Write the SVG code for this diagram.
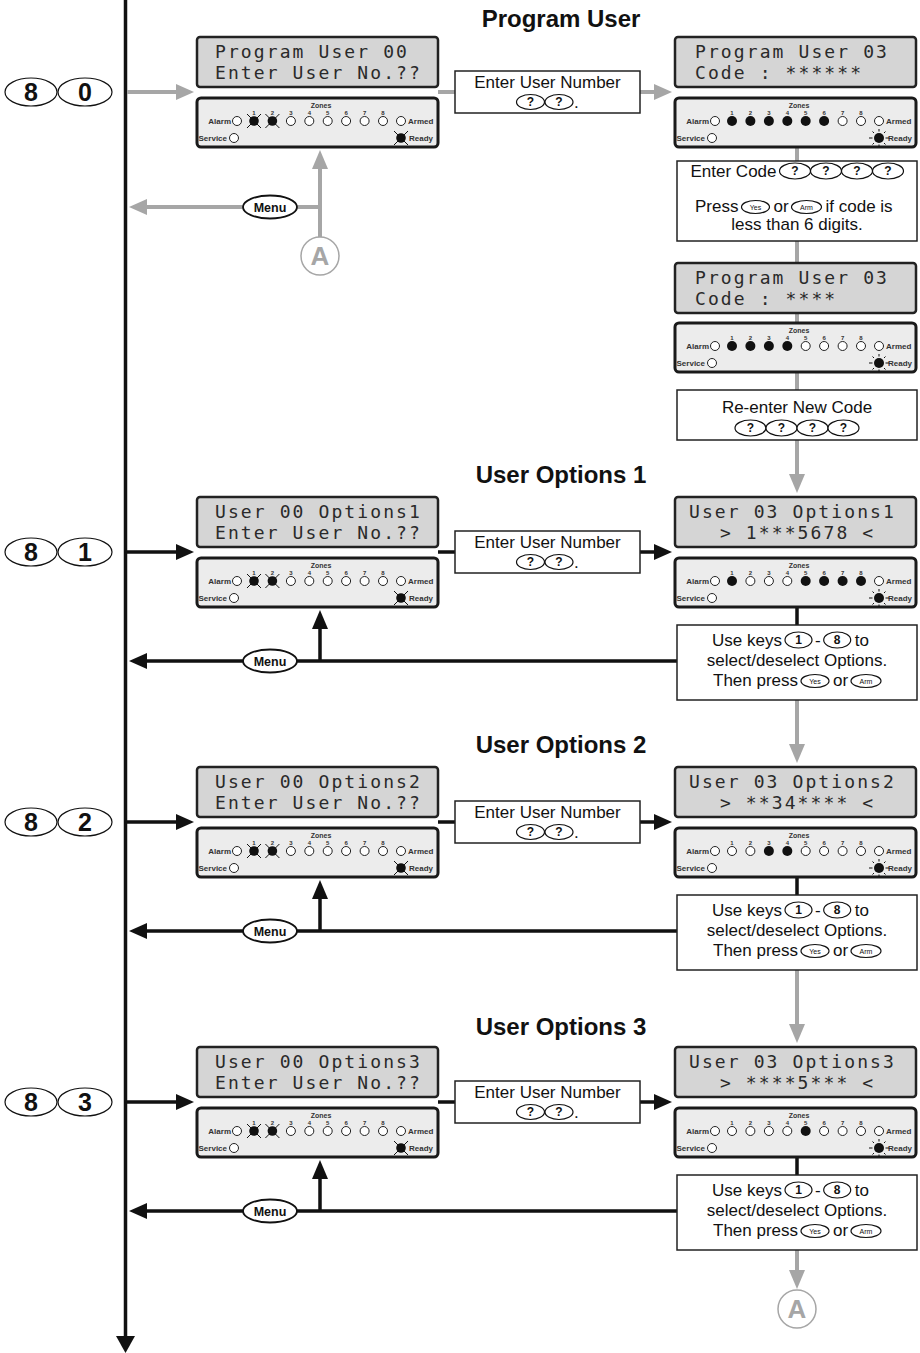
<svg xmlns="http://www.w3.org/2000/svg" width="920" height="1353" viewBox="0 0 920 1353">
<style>
.lcd{fill:#d5d5d5;stroke:#222;stroke-width:2.5}
.lt{font-family:"DejaVu Sans Mono","Liberation Mono",monospace;font-size:18px;letter-spacing:2.1px;fill:#2a2a2a}
.pnl{fill:#ececec;stroke:#1a1a1a;stroke-width:3}
.lbl{font-family:"Liberation Sans",Arial,sans-serif;font-weight:bold;font-size:8px;fill:#333}
.zn{font-family:"Liberation Sans",Arial,sans-serif;font-weight:bold;font-size:7px;fill:#333;text-anchor:middle}
.num{font-family:"Liberation Sans",Arial,sans-serif;font-weight:bold;font-size:6px;fill:#333;text-anchor:middle}
.off{fill:#fff;stroke:#222;stroke-width:1}
.box{fill:#fff;stroke:#222;stroke-width:1.5}
.bt{font-family:"Liberation Sans",Arial,sans-serif;font-size:17px;fill:#111}
.c{text-anchor:middle}
.key{fill:#fff;stroke:#111;stroke-width:1.2}
.q{font-family:"Liberation Sans",Arial,sans-serif;font-weight:bold;font-size:12px;fill:#111;text-anchor:middle}
.sm{font-family:"Liberation Sans",Arial,sans-serif;font-size:7px;fill:#111;text-anchor:middle}
.big{font-family:"Liberation Sans",Arial,sans-serif;font-weight:bold;font-size:25px;fill:#111;text-anchor:middle}
.ttl{font-family:"Liberation Sans",Arial,sans-serif;font-weight:bold;font-size:24px;fill:#111;text-anchor:middle}
.menu{font-family:"Liberation Sans",Arial,sans-serif;font-weight:bold;font-size:12.5px;fill:#111;text-anchor:middle}
.gl{stroke:#a6a6a6;stroke-width:4;fill:none}
.kl{stroke:#111;stroke-width:3.5;fill:none}
.gh{fill:#a6a6a6}
.kh{fill:#111}
.ac{fill:#fff;stroke:#a6a6a6;stroke-width:1.5}
.at{font-family:"Liberation Sans",Arial,sans-serif;font-weight:bold;font-size:26px;fill:#a6a6a6;text-anchor:middle}
</style>
<defs>
<g id="fl"><circle r="4.8" fill="#111"/><path d="M-7,-7L7,7M-7,7L7,-7" stroke="#111" stroke-width="1"/></g>
<g id="sun"><circle r="5" fill="#111"/><path d="M-10,0H-6.5M6.5,0H10M0,-9V-6.5M0,6.5V9M-6.5,-6.5L-5,-5M6.5,-6.5L5,-5M-6.5,6.5L-5,5M6.5,6.5L5,5" stroke="#111" stroke-width="1"/></g>
</defs>

<g id="titles">
<text class="ttl" x="561" y="27">Program User</text>
<text class="ttl" x="561" y="483">User Options 1</text>
<text class="ttl" x="561" y="753">User Options 2</text>
<text class="ttl" x="561" y="1035">User Options 3</text>
</g>

<g id="connectors">
<path class="kl" d="M125.5,0V1338"/>
<polygon class="kh" points="116,1336 135,1336 125.5,1353"/>
<path class="gl" d="M127,92H178M438,92H455M640,92H656"/>
<polygon class="gh" points="176,84 194,92 176,100"/>
<polygon class="gh" points="654,84 672,92 654,100"/>
<path class="gl" d="M797,148V161M797,241V263M797,313V323M797,372V390M797,440V476"/>
<polygon class="gh" points="789,474 797,493 805,474"/>
<path class="gl" d="M320,237V167M320,207H297M243,207H146"/>
<polygon class="gh" points="312,169 320,150 328,169"/>
<polygon class="gh" points="147,199 129,207 147,215"/>
<path class="kl" d="M127,552H178M438,552H455M640,552H656M797,607V625M677,661H297M243,661H146M320,661V627"/>
<polygon class="kh" points="176,544 194,552 176,560"/>
<polygon class="kh" points="654,544 672,552 654,560"/>
<polygon class="kh" points="147,653 129,661 147,669"/>
<polygon class="kh" points="312,629 320,610 328,629"/>
<path class="gl" d="M797,700V746"/>
<polygon class="gh" points="789,744 797,763 805,744"/>
<path class="kl" d="M127,822H178M438,822H455M640,822H656M797,877V895M677,931H297M243,931H146M320,931V897"/>
<polygon class="kh" points="176,814 194,822 176,830"/>
<polygon class="kh" points="654,814 672,822 654,830"/>
<polygon class="kh" points="147,923 129,931 147,939"/>
<polygon class="kh" points="312,899 320,880 328,899"/>
<path class="gl" d="M797,970V1026"/>
<polygon class="gh" points="789,1024 797,1043 805,1024"/>
<path class="kl" d="M127,1102H178M438,1102H455M640,1102H656M797,1157V1175M677,1211H297M243,1211H146M320,1211V1177"/>
<polygon class="kh" points="176,1094 194,1102 176,1110"/>
<polygon class="kh" points="654,1094 672,1102 654,1110"/>
<polygon class="kh" points="147,1203 129,1211 147,1219"/>
<polygon class="kh" points="312,1179 320,1160 328,1179"/>
<path class="gl" d="M797,1250V1272"/>
<polygon class="gh" points="789,1270 797,1289 805,1270"/>
</g>

<g id="key-80"><ellipse class="key" cx="31" cy="92" rx="26" ry="14"/><text class="big" x="31" y="101">8</text><ellipse class="key" cx="85" cy="92" rx="27" ry="14"/><text class="big" x="85" y="101">0</text></g>
<g id="key-81"><ellipse class="key" cx="31" cy="552" rx="26" ry="14"/><text class="big" x="31" y="561">8</text><ellipse class="key" cx="85" cy="552" rx="27" ry="14"/><text class="big" x="85" y="561">1</text></g>
<g id="key-82"><ellipse class="key" cx="31" cy="822" rx="26" ry="14"/><text class="big" x="31" y="831">8</text><ellipse class="key" cx="85" cy="822" rx="27" ry="14"/><text class="big" x="85" y="831">2</text></g>
<g id="key-83"><ellipse class="key" cx="31" cy="1102" rx="26" ry="14"/><text class="big" x="31" y="1111">8</text><ellipse class="key" cx="85" cy="1102" rx="27" ry="14"/><text class="big" x="85" y="1111">3</text></g>

<g id="menu-1"><ellipse class="key" cx="270" cy="207" rx="27" ry="11.5" style="stroke-width:1.8"/><text class="menu" x="270" y="211.5">Menu</text></g>
<g id="menu-2"><ellipse class="key" cx="270" cy="661" rx="27" ry="11.5" style="stroke-width:1.8"/><text class="menu" x="270" y="665.5">Menu</text></g>
<g id="menu-3"><ellipse class="key" cx="270" cy="931" rx="27" ry="11.5" style="stroke-width:1.8"/><text class="menu" x="270" y="935.5">Menu</text></g>
<g id="menu-4"><ellipse class="key" cx="270" cy="1211" rx="27" ry="11.5" style="stroke-width:1.8"/><text class="menu" x="270" y="1215.5">Menu</text></g>
<g id="connector-A-top"><circle class="ac" cx="320" cy="256" r="19"/><text class="at" x="320" y="265.3">A</text></g>
<g id="connector-A-bottom"><circle class="ac" cx="797" cy="1309" r="19"/><text class="at" x="797" y="1318.3">A</text></g>

<g id="lcd-1L"><rect class="lcd" x="197" y="37" width="241" height="50" rx="3"/><text class="lt" x="215" y="58">Program User 00</text><text class="lt" x="215" y="79">Enter User No.??</text></g>
<g id="lcd-1R"><rect class="lcd" x="675" y="37" width="241" height="50" rx="3"/><text class="lt" x="695" y="58">Program User 03</text><text class="lt" x="695" y="79">Code : ******</text></g>
<g id="lcd-1bR"><rect class="lcd" x="675" y="263" width="241" height="50" rx="3"/><text class="lt" x="695" y="284">Program User 03</text><text class="lt" x="695" y="305">Code : ****</text></g>
<g id="lcd-2L"><rect class="lcd" x="197" y="497" width="241" height="50" rx="3"/><text class="lt" x="215" y="518">User 00 Options1</text><text class="lt" x="215" y="539">Enter User No.??</text></g>
<g id="lcd-2R"><rect class="lcd" x="675" y="497" width="241" height="50" rx="3"/><text class="lt" x="689" y="518">User 03 Options1</text><text class="lt" x="720" y="539">&gt; 1***5678 &lt;</text></g>
<g id="lcd-3L"><rect class="lcd" x="197" y="767" width="241" height="50" rx="3"/><text class="lt" x="215" y="788">User 00 Options2</text><text class="lt" x="215" y="809">Enter User No.??</text></g>
<g id="lcd-3R"><rect class="lcd" x="675" y="767" width="241" height="50" rx="3"/><text class="lt" x="689" y="788">User 03 Options2</text><text class="lt" x="720" y="809">&gt; **34**** &lt;</text></g>
<g id="lcd-4L"><rect class="lcd" x="197" y="1047" width="241" height="50" rx="3"/><text class="lt" x="215" y="1068">User 00 Options3</text><text class="lt" x="215" y="1089">Enter User No.??</text></g>
<g id="lcd-4R"><rect class="lcd" x="675" y="1047" width="241" height="50" rx="3"/><text class="lt" x="689" y="1068">User 03 Options3</text><text class="lt" x="720" y="1089">&gt; ****5*** &lt;</text></g>

<g id="leds-1L">
<rect class="pnl" x="197" y="98" width="241" height="49" rx="4"/>
<text class="zn" x="321" y="108">Zones</text>
<text class="num" x="254 272.4 290.9 309.3 327.7 346.1 364.6 383" y="115">12345678</text>
<text class="lbl" x="231" y="124" text-anchor="end">Alarm</text>
<text class="lbl" x="408" y="124">Armed</text>
<text class="lbl" x="227" y="141" text-anchor="end">Service</text>
<text class="lbl" x="409" y="141">Ready</text>
<circle class="off" cx="237" cy="121" r="4.5"/>
<use href="#fl" x="254" y="121"/><use href="#fl" x="272.4" y="121"/>
<circle class="off" cx="290.9" cy="121" r="4.5"/><circle class="off" cx="309.3" cy="121" r="4.5"/><circle class="off" cx="327.7" cy="121" r="4.5"/><circle class="off" cx="346.1" cy="121" r="4.5"/><circle class="off" cx="364.6" cy="121" r="4.5"/><circle class="off" cx="383" cy="121" r="4.5"/>
<circle class="off" cx="401" cy="121" r="4.5"/>
<circle class="off" cx="234" cy="138" r="4.5"/>
<use href="#fl" x="401" y="138"/>
</g>
<g id="leds-1R">
<rect class="pnl" x="675" y="98" width="241" height="49" rx="4"/>
<text class="zn" x="799" y="108">Zones</text>
<text class="num" x="732 750.4 768.9 787.3 805.7 824.1 842.6 861" y="115">12345678</text>
<text class="lbl" x="709" y="124" text-anchor="end">Alarm</text>
<text class="lbl" x="886" y="124">Armed</text>
<text class="lbl" x="705" y="141" text-anchor="end">Service</text>
<text class="lbl" x="888" y="141">Ready</text>
<circle class="off" cx="715" cy="121" r="4.5"/>
<circle fill="#111" cx="732" cy="121" r="5"/><circle fill="#111" cx="750.4" cy="121" r="5"/><circle fill="#111" cx="768.9" cy="121" r="5"/><circle fill="#111" cx="787.3" cy="121" r="5"/><circle fill="#111" cx="805.7" cy="121" r="5"/><circle fill="#111" cx="824.1" cy="121" r="5"/>
<circle class="off" cx="842.6" cy="121" r="4.5"/><circle class="off" cx="861" cy="121" r="4.5"/>
<circle class="off" cx="879" cy="121" r="4.5"/>
<circle class="off" cx="712" cy="138" r="4.5"/>
<use href="#sun" x="879" y="138"/>
</g>
<g id="leds-1bR">
<rect class="pnl" x="675" y="323" width="241" height="49" rx="4"/>
<text class="zn" x="799" y="333">Zones</text>
<text class="num" x="732 750.4 768.9 787.3 805.7 824.1 842.6 861" y="340">12345678</text>
<text class="lbl" x="709" y="349" text-anchor="end">Alarm</text>
<text class="lbl" x="886" y="349">Armed</text>
<text class="lbl" x="705" y="366" text-anchor="end">Service</text>
<text class="lbl" x="888" y="366">Ready</text>
<circle class="off" cx="715" cy="346" r="4.5"/>
<circle fill="#111" cx="732" cy="346" r="5"/><circle fill="#111" cx="750.4" cy="346" r="5"/><circle fill="#111" cx="768.9" cy="346" r="5"/><circle fill="#111" cx="787.3" cy="346" r="5"/>
<circle class="off" cx="805.7" cy="346" r="4.5"/><circle class="off" cx="824.1" cy="346" r="4.5"/><circle class="off" cx="842.6" cy="346" r="4.5"/><circle class="off" cx="861" cy="346" r="4.5"/>
<circle class="off" cx="879" cy="346" r="4.5"/>
<circle class="off" cx="712" cy="363" r="4.5"/>
<use href="#sun" x="879" y="363"/>
</g>
<g id="leds-2L">
<rect class="pnl" x="197" y="558" width="241" height="49" rx="4"/>
<text class="zn" x="321" y="568">Zones</text>
<text class="num" x="254 272.4 290.9 309.3 327.7 346.1 364.6 383" y="575">12345678</text>
<text class="lbl" x="231" y="584" text-anchor="end">Alarm</text>
<text class="lbl" x="408" y="584">Armed</text>
<text class="lbl" x="227" y="601" text-anchor="end">Service</text>
<text class="lbl" x="409" y="601">Ready</text>
<circle class="off" cx="237" cy="581" r="4.5"/>
<use href="#fl" x="254" y="581"/><use href="#fl" x="272.4" y="581"/>
<circle class="off" cx="290.9" cy="581" r="4.5"/><circle class="off" cx="309.3" cy="581" r="4.5"/><circle class="off" cx="327.7" cy="581" r="4.5"/><circle class="off" cx="346.1" cy="581" r="4.5"/><circle class="off" cx="364.6" cy="581" r="4.5"/><circle class="off" cx="383" cy="581" r="4.5"/>
<circle class="off" cx="401" cy="581" r="4.5"/>
<circle class="off" cx="234" cy="598" r="4.5"/>
<use href="#fl" x="401" y="598"/>
</g>
<g id="leds-2R">
<rect class="pnl" x="675" y="558" width="241" height="49" rx="4"/>
<text class="zn" x="799" y="568">Zones</text>
<text class="num" x="732 750.4 768.9 787.3 805.7 824.1 842.6 861" y="575">12345678</text>
<text class="lbl" x="709" y="584" text-anchor="end">Alarm</text>
<text class="lbl" x="886" y="584">Armed</text>
<text class="lbl" x="705" y="601" text-anchor="end">Service</text>
<text class="lbl" x="888" y="601">Ready</text>
<circle class="off" cx="715" cy="581" r="4.5"/>
<circle fill="#111" cx="732" cy="581" r="5"/>
<circle class="off" cx="750.4" cy="581" r="4.5"/><circle class="off" cx="768.9" cy="581" r="4.5"/><circle class="off" cx="787.3" cy="581" r="4.5"/>
<circle fill="#111" cx="805.7" cy="581" r="5"/><circle fill="#111" cx="824.1" cy="581" r="5"/><circle fill="#111" cx="842.6" cy="581" r="5"/><circle fill="#111" cx="861" cy="581" r="5"/>
<circle class="off" cx="879" cy="581" r="4.5"/>
<circle class="off" cx="712" cy="598" r="4.5"/>
<use href="#sun" x="879" y="598"/>
</g>
<g id="leds-3L">
<rect class="pnl" x="197" y="828" width="241" height="49" rx="4"/>
<text class="zn" x="321" y="838">Zones</text>
<text class="num" x="254 272.4 290.9 309.3 327.7 346.1 364.6 383" y="845">12345678</text>
<text class="lbl" x="231" y="854" text-anchor="end">Alarm</text>
<text class="lbl" x="408" y="854">Armed</text>
<text class="lbl" x="227" y="871" text-anchor="end">Service</text>
<text class="lbl" x="409" y="871">Ready</text>
<circle class="off" cx="237" cy="851" r="4.5"/>
<use href="#fl" x="254" y="851"/><use href="#fl" x="272.4" y="851"/>
<circle class="off" cx="290.9" cy="851" r="4.5"/><circle class="off" cx="309.3" cy="851" r="4.5"/><circle class="off" cx="327.7" cy="851" r="4.5"/><circle class="off" cx="346.1" cy="851" r="4.5"/><circle class="off" cx="364.6" cy="851" r="4.5"/><circle class="off" cx="383" cy="851" r="4.5"/>
<circle class="off" cx="401" cy="851" r="4.5"/>
<circle class="off" cx="234" cy="868" r="4.5"/>
<use href="#fl" x="401" y="868"/>
</g>
<g id="leds-3R">
<rect class="pnl" x="675" y="828" width="241" height="49" rx="4"/>
<text class="zn" x="799" y="838">Zones</text>
<text class="num" x="732 750.4 768.9 787.3 805.7 824.1 842.6 861" y="845">12345678</text>
<text class="lbl" x="709" y="854" text-anchor="end">Alarm</text>
<text class="lbl" x="886" y="854">Armed</text>
<text class="lbl" x="705" y="871" text-anchor="end">Service</text>
<text class="lbl" x="888" y="871">Ready</text>
<circle class="off" cx="715" cy="851" r="4.5"/>
<circle class="off" cx="732" cy="851" r="4.5"/><circle class="off" cx="750.4" cy="851" r="4.5"/>
<circle fill="#111" cx="768.9" cy="851" r="5"/><circle fill="#111" cx="787.3" cy="851" r="5"/>
<circle class="off" cx="805.7" cy="851" r="4.5"/><circle class="off" cx="824.1" cy="851" r="4.5"/><circle class="off" cx="842.6" cy="851" r="4.5"/><circle class="off" cx="861" cy="851" r="4.5"/>
<circle class="off" cx="879" cy="851" r="4.5"/>
<circle class="off" cx="712" cy="868" r="4.5"/>
<use href="#sun" x="879" y="868"/>
</g>
<g id="leds-4L">
<rect class="pnl" x="197" y="1108" width="241" height="49" rx="4"/>
<text class="zn" x="321" y="1118">Zones</text>
<text class="num" x="254 272.4 290.9 309.3 327.7 346.1 364.6 383" y="1125">12345678</text>
<text class="lbl" x="231" y="1134" text-anchor="end">Alarm</text>
<text class="lbl" x="408" y="1134">Armed</text>
<text class="lbl" x="227" y="1151" text-anchor="end">Service</text>
<text class="lbl" x="409" y="1151">Ready</text>
<circle class="off" cx="237" cy="1131" r="4.5"/>
<use href="#fl" x="254" y="1131"/><use href="#fl" x="272.4" y="1131"/>
<circle class="off" cx="290.9" cy="1131" r="4.5"/><circle class="off" cx="309.3" cy="1131" r="4.5"/><circle class="off" cx="327.7" cy="1131" r="4.5"/><circle class="off" cx="346.1" cy="1131" r="4.5"/><circle class="off" cx="364.6" cy="1131" r="4.5"/><circle class="off" cx="383" cy="1131" r="4.5"/>
<circle class="off" cx="401" cy="1131" r="4.5"/>
<circle class="off" cx="234" cy="1148" r="4.5"/>
<use href="#fl" x="401" y="1148"/>
</g>
<g id="leds-4R">
<rect class="pnl" x="675" y="1108" width="241" height="49" rx="4"/>
<text class="zn" x="799" y="1118">Zones</text>
<text class="num" x="732 750.4 768.9 787.3 805.7 824.1 842.6 861" y="1125">12345678</text>
<text class="lbl" x="709" y="1134" text-anchor="end">Alarm</text>
<text class="lbl" x="886" y="1134">Armed</text>
<text class="lbl" x="705" y="1151" text-anchor="end">Service</text>
<text class="lbl" x="888" y="1151">Ready</text>
<circle class="off" cx="715" cy="1131" r="4.5"/>
<circle class="off" cx="732" cy="1131" r="4.5"/><circle class="off" cx="750.4" cy="1131" r="4.5"/><circle class="off" cx="768.9" cy="1131" r="4.5"/><circle class="off" cx="787.3" cy="1131" r="4.5"/>
<circle fill="#111" cx="805.7" cy="1131" r="5"/>
<circle class="off" cx="824.1" cy="1131" r="4.5"/><circle class="off" cx="842.6" cy="1131" r="4.5"/><circle class="off" cx="861" cy="1131" r="4.5"/>
<circle class="off" cx="879" cy="1131" r="4.5"/>
<circle class="off" cx="712" cy="1148" r="4.5"/>
<use href="#sun" x="879" y="1148"/>
</g>

<g id="enter-user-1"><rect class="box" x="455" y="71" width="185" height="42"/><text class="bt c" x="547.5" y="88">Enter User Number</text><ellipse class="key" cx="530.5" cy="102" rx="14" ry="7.5"/><text class="q" x="530.5" y="106.3">?</text><ellipse class="key" cx="559" cy="102" rx="14" ry="7.5"/><text class="q" x="559" y="106.3">?</text><text class="bt" x="574" y="108">.</text></g>
<g id="enter-user-2"><rect class="box" x="455" y="531" width="185" height="42"/><text class="bt c" x="547.5" y="548">Enter User Number</text><ellipse class="key" cx="530.5" cy="562" rx="14" ry="7.5"/><text class="q" x="530.5" y="566.3">?</text><ellipse class="key" cx="559" cy="562" rx="14" ry="7.5"/><text class="q" x="559" y="566.3">?</text><text class="bt" x="574" y="568">.</text></g>
<g id="enter-user-3"><rect class="box" x="455" y="801" width="185" height="42"/><text class="bt c" x="547.5" y="818">Enter User Number</text><ellipse class="key" cx="530.5" cy="832" rx="14" ry="7.5"/><text class="q" x="530.5" y="836.3">?</text><ellipse class="key" cx="559" cy="832" rx="14" ry="7.5"/><text class="q" x="559" y="836.3">?</text><text class="bt" x="574" y="838">.</text></g>
<g id="enter-user-4"><rect class="box" x="455" y="1081" width="185" height="42"/><text class="bt c" x="547.5" y="1098">Enter User Number</text><ellipse class="key" cx="530.5" cy="1112" rx="14" ry="7.5"/><text class="q" x="530.5" y="1116.3">?</text><ellipse class="key" cx="559" cy="1112" rx="14" ry="7.5"/><text class="q" x="559" y="1116.3">?</text><text class="bt" x="574" y="1118">.</text></g>

<g id="enter-code">
<rect class="box" x="677" y="161" width="240" height="80"/>
<text class="bt" x="690.5" y="177">Enter Code</text>
<ellipse class="key" cx="795" cy="171" rx="15.5" ry="8"/><text class="q" x="795" y="175.3">?</text>
<ellipse class="key" cx="826" cy="171" rx="15.5" ry="8"/><text class="q" x="826" y="175.3">?</text>
<ellipse class="key" cx="857" cy="171" rx="15.5" ry="8"/><text class="q" x="857" y="175.3">?</text>
<ellipse class="key" cx="888" cy="171" rx="15.5" ry="8"/><text class="q" x="888" y="175.3">?</text>
<text class="bt" x="695" y="212">Press</text>
<ellipse class="key" cx="755.5" cy="207" rx="14" ry="6.5"/><text class="sm" x="755.5" y="209.5">Yes</text>
<text class="bt" x="773.5" y="212">or</text>
<ellipse class="key" cx="806.5" cy="207" rx="15" ry="6.5"/><text class="sm" x="806.5" y="209.5">Arm</text>
<text class="bt" x="825.5" y="212">if code is</text>
<text class="bt c" x="797" y="230">less than 6 digits.</text>
</g>

<g id="reenter-code">
<rect class="box" x="677" y="390" width="240" height="50"/>
<text class="bt c" x="797" y="413">Re-enter New Code</text>
<ellipse class="key" cx="750.5" cy="428" rx="15.5" ry="8"/><text class="q" x="750.5" y="432.3">?</text>
<ellipse class="key" cx="781.5" cy="428" rx="15.5" ry="8"/><text class="q" x="781.5" y="432.3">?</text>
<ellipse class="key" cx="812.5" cy="428" rx="15.5" ry="8"/><text class="q" x="812.5" y="432.3">?</text>
<ellipse class="key" cx="843.5" cy="428" rx="15.5" ry="8"/><text class="q" x="843.5" y="432.3">?</text>
</g>

<g id="use-keys-2">
<rect class="box" x="677" y="625" width="240" height="75"/>
<text class="bt" x="712" y="646">Use keys</text>
<ellipse class="key" cx="798.5" cy="640" rx="13.5" ry="8"/><text class="q" x="798.5" y="644.3">1</text>
<text class="bt c" x="817.8" y="646">-</text>
<ellipse class="key" cx="837.2" cy="640" rx="13.5" ry="8"/><text class="q" x="837.2" y="644.3">8</text>
<text class="bt" x="854.7" y="646">to</text>
<text class="bt c" x="797" y="666">select/deselect Options.</text>
<text class="bt" x="713" y="686">Then press</text>
<ellipse class="key" cx="815" cy="681" rx="14" ry="6.5"/><text class="sm" x="815" y="683.5">Yes</text>
<text class="bt" x="833" y="686">or</text>
<ellipse class="key" cx="866" cy="681" rx="15" ry="6.5"/><text class="sm" x="866" y="683.5">Arm</text>
</g>
<g id="use-keys-3">
<rect class="box" x="677" y="895" width="240" height="75"/>
<text class="bt" x="712" y="916">Use keys</text>
<ellipse class="key" cx="798.5" cy="910" rx="13.5" ry="8"/><text class="q" x="798.5" y="914.3">1</text>
<text class="bt c" x="817.8" y="916">-</text>
<ellipse class="key" cx="837.2" cy="910" rx="13.5" ry="8"/><text class="q" x="837.2" y="914.3">8</text>
<text class="bt" x="854.7" y="916">to</text>
<text class="bt c" x="797" y="936">select/deselect Options.</text>
<text class="bt" x="713" y="956">Then press</text>
<ellipse class="key" cx="815" cy="951" rx="14" ry="6.5"/><text class="sm" x="815" y="953.5">Yes</text>
<text class="bt" x="833" y="956">or</text>
<ellipse class="key" cx="866" cy="951" rx="15" ry="6.5"/><text class="sm" x="866" y="953.5">Arm</text>
</g>
<g id="use-keys-4">
<rect class="box" x="677" y="1175" width="240" height="75"/>
<text class="bt" x="712" y="1196">Use keys</text>
<ellipse class="key" cx="798.5" cy="1190" rx="13.5" ry="8"/><text class="q" x="798.5" y="1194.3">1</text>
<text class="bt c" x="817.8" y="1196">-</text>
<ellipse class="key" cx="837.2" cy="1190" rx="13.5" ry="8"/><text class="q" x="837.2" y="1194.3">8</text>
<text class="bt" x="854.7" y="1196">to</text>
<text class="bt c" x="797" y="1216">select/deselect Options.</text>
<text class="bt" x="713" y="1236">Then press</text>
<ellipse class="key" cx="815" cy="1231" rx="14" ry="6.5"/><text class="sm" x="815" y="1233.5">Yes</text>
<text class="bt" x="833" y="1236">or</text>
<ellipse class="key" cx="866" cy="1231" rx="15" ry="6.5"/><text class="sm" x="866" y="1233.5">Arm</text>
</g>
</svg>
